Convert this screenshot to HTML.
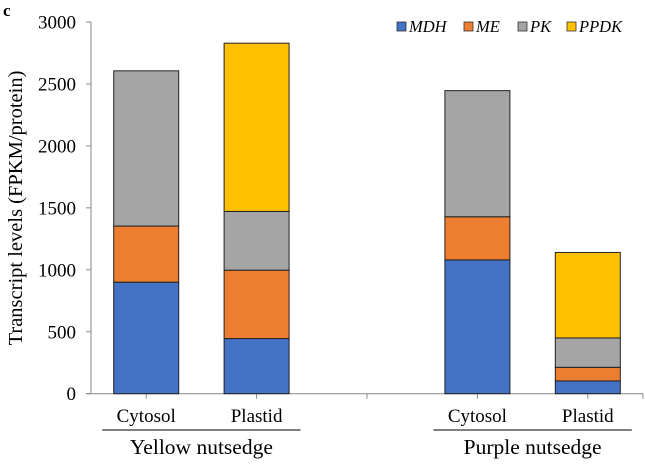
<!DOCTYPE html>
<html><head><meta charset="utf-8"><style>
body{margin:0;background:#fff;}
svg text{font-family:"Liberation Serif",serif;fill:#000;}
</style></head><body>
<svg id="chart" width="645" height="460" viewBox="0 0 645 460" xmlns="http://www.w3.org/2000/svg">
<text x="3" y="16" font-size="17" font-weight="bold">c</text>
<text transform="translate(22,208) rotate(-90)" text-anchor="middle" font-size="20.5">Transcript levels (FPKM/protein)</text>
<g id="axes"></g>
<g id="bars"></g>
<g id="legend"></g>
</svg>
<script>
const categories=["Cytosol","Plastid","","Cytosol","Plastid"];
const groups=["Yellow nutsedge","Purple nutsedge"];
const seriesNames=["MDH","ME","PK","PPDK"];
const mdh=[900,445,0,1080,103];
const me=[453,552,0,348,110];
const pk=[1253,474,0,1018,237];
const ppdk=[0,1358,0,0,690];
const yTicks=[0,500,1000,1500,2000,2500,3000];
const colors=["#4472C4","#ED7D31","#A5A5A5","#FFC000"];
const NS="http://www.w3.org/2000/svg";
const x0=91,slot=110.4,y0=393.7,yMax=3000,ph=371.7,bw=65;
function yS(v){return y0-v/yMax*ph;}
function xC(i){return x0+slot*(i+0.5);}
function mk(t,a,p){const e=document.createElementNS(NS,t);for(const k in a)e.setAttribute(k,a[k]);p.appendChild(e);return e;}
const ax=document.getElementById('axes');
let yl=mk('line',{x1:x0,y1:yS(3000),x2:x0,y2:y0,stroke:'#888','stroke-width':1},ax);


yTicks.forEach(v=>{
 const tk=mk('line',{x1:x0-5,x2:x0,y1:yS(v),y2:yS(v),stroke:'#888'},ax);
 
 
 const t=mk('text',{x:x0-15,y:yS(v)+6.5,'text-anchor':'end','font-size':'19'},ax);t.textContent=v;
 
 
});
let xl=mk('line',{x1:x0-5,y1:y0,x2:x0+slot*5,y2:y0,stroke:'#888'},ax);


for(let i=0;i<5;i++){
 const tk=mk('line',{x1:xC(i),x2:xC(i),y1:y0,y2:y0+5,stroke:'#888'},ax);
 
 
 if(categories[i]){const t=mk('text',{x:xC(i),y:422,'text-anchor':'middle','font-size':'19'},ax);t.textContent=categories[i];
 
 }
}
const endT=mk('line',{x1:x0+slot*5,x2:x0+slot*5,y1:y0,y2:y0+5,stroke:'#888'},ax);


[[0,1],[3,4]].forEach((g,gi)=>{
 const l=mk('line',{x1:xC(g[0])-44,x2:xC(g[1])+44,y1:430,y2:430,stroke:'#000'},ax);
 
 
 const t=mk('text',{x:(xC(g[0])+xC(g[1]))/2,y:454,'text-anchor':'middle','font-size':'21.5'},ax);t.textContent=groups[gi];
 
 
});
const bars=document.getElementById('bars');
const series=[mdh,me,pk,ppdk];
for(let i=0;i<5;i++){let base=0;
 series.forEach((s,si)=>{const v=s[i];if(!v)return;
  const r=mk('rect',{x:xC(i)-bw/2,y:yS(base+v),width:bw,height:yS(base)-yS(base+v),fill:colors[si],stroke:'#222','stroke-width':1},bars);
  
  
  base+=v;});
}
const lg=document.getElementById('legend');
const lx=[397,464,518,567];
seriesNames.forEach((n,i)=>{
 const r=mk('rect',{x:lx[i],y:22,width:9,height:9,fill:colors[i],stroke:'#333','stroke-width':0.8},lg);
 
 
 const t=mk('text',{x:lx[i]+12,y:32,'font-size':'16.5','font-style':'italic'},lg);t.textContent=n;
 
 
});
</script>
</body></html>
